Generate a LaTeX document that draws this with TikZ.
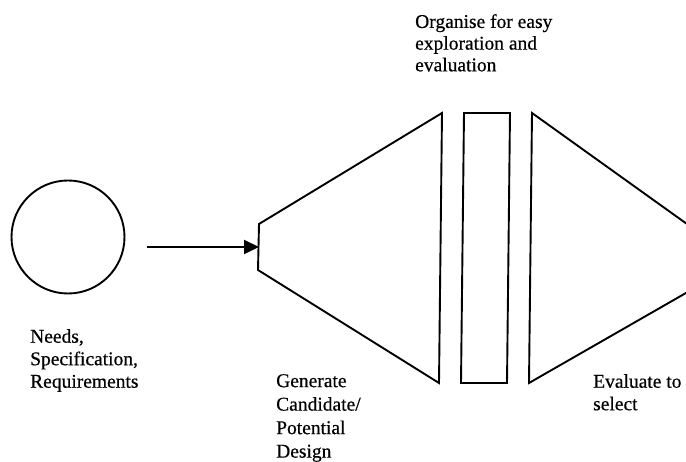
\documentclass[tikz,border=0pt]{standalone}
\usepackage{fontspec}
\setmainfont[FakeBold=0.5]{Liberation Serif}
\usetikzlibrary{arrows.meta}
\begin{document}
\begin{tikzpicture}[x=1pt,y=-1pt,
  shapeline/.style={draw=black,line width=1.9pt,line join=miter},
  label/.style={anchor=north west,inner sep=0pt,align=left,
    font=\fontsize{19.5}{22.5}\selectfont},
  flow/.style={line width=1.9pt,-{Triangle[length=15pt,width=14pt]}}]
  \useasboundingbox (0,0) rectangle (686,462);

  % needs / specification circle
  \node[shapeline,circle,minimum size=113pt,inner sep=0pt] (needs) at (68,237) {};

  % generation funnel (opening to the right)
  \coordinate (genTL) at (259,224);
  \coordinate (genBL) at (258,270);
  \coordinate (genTR) at (442,113);
  \coordinate (genBR) at (439,383);
  \draw[shapeline] (genTL) -- (genTR) -- (genBR) -- (genBL) -- cycle;

  % organisation bar
  \coordinate (barTL) at (464,113);
  \coordinate (barTR) at (510,113);
  \coordinate (barBR) at (507,383);
  \coordinate (barBL) at (461,383);
  \draw[shapeline] (barTL) -- (barTR) -- (barBR) -- (barBL) -- cycle;

  % evaluation funnel (narrowing to the right, runs off the edge)
  \coordinate (evTL) at (532,113);
  \coordinate (evBL) at (529,383);
  \coordinate (evTip) at (740,262);
  \begin{scope}
    \clip (0,0) rectangle (686,462);
    \draw[shapeline] (evTL) -- (evTip) -- (evBL) -- cycle;
  \end{scope}

  % input arrow
  \coordinate (inStart) at (147,247);
  \coordinate (genIn) at (259,247);
  \draw[flow] (inStart) -- (genIn);

  % labels
  \node[label] (lneeds) at (30,329) {Needs,\\Specification,\\Requirements};
  \node[label,font=\fontsize{19.5}{23.5}\selectfont] (lgen) at (276,374) {Generate\\Candidate/\\Potential\\Design};
  \node[label,font=\fontsize{19.5}{21.7}\selectfont] (lorg) at (415,14) {Organise for easy\\exploration and\\evaluation};
  \node[label] (leval) at (593,374) {Evaluate to\\select};
\end{tikzpicture}
\end{document}
